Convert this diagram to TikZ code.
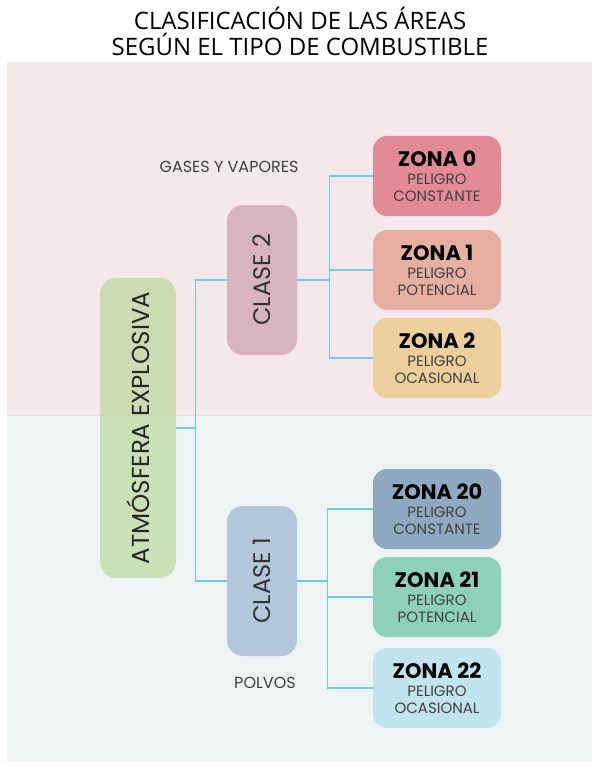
\documentclass[tikz,border=0pt]{standalone}
\usepackage{fontspec}
\usepackage{graphicx}
\setmainfont{Poppins}
\newfontfamily\titlefont{Open Sans}
\usetikzlibrary{positioning}

\definecolor{bgtop}{HTML}{F4E8EA}
\definecolor{bgbottom}{HTML}{EEF4F4}
\definecolor{bgline}{HTML}{E4DFE1}
\definecolor{linkblue}{HTML}{6CCBEE}
\definecolor{rootgreen}{HTML}{A8D07C}
\definecolor{claseA}{HTML}{D8B5BE}
\definecolor{claseB}{HTML}{B3C7DC}
\definecolor{zonaA}{HTML}{E28A96}
\definecolor{zonaB}{HTML}{E6AFA1}
\definecolor{zonaC}{HTML}{EDCF9D}
\definecolor{zonaD}{HTML}{8EA9C1}
\definecolor{zonaE}{HTML}{8ED0BB}
\definecolor{zonaF}{HTML}{C2E4EF}

\begin{document}
\begin{tikzpicture}[
        x=1pt, y=-1pt,
        zone/.style={
          rounded corners=14pt,
          minimum width=128pt,
          minimum height=80pt,
          align=center,
          inner sep=2pt,
          text=black!75,
          font=\fontsize{15}{17}\selectfont
        },
        clase/.style={
          rounded corners=16pt,
          minimum width=70pt,
          minimum height=150pt,
          inner sep=0pt,
          text=black!80,
          font=\fontsize{24}{26}\selectfont
        },
        root/.style={
          rounded corners=16pt,
          minimum width=76pt,
          minimum height=300pt,
          inner sep=0pt,
          fill=rootgreen,
          fill opacity=0.5,
          text opacity=1,
          text=black!85,
          font=\fontsize{24.5}{27}\selectfont
        },
        note/.style={text=black!75, font=\fontsize{16}{18}\selectfont},
        link/.style={draw=linkblue, line width=1.4pt}
      ]

      \useasboundingbox (0,0) rectangle (592,762);
      % backgrounds
      \fill[bgtop] (7,62) rectangle (592,415);
      \fill[bgbottom] (7,415) rectangle (592,762);
      \draw[bgline, line width=1pt] (7,415) -- (592,415);

      \node[align=center, font=\titlefont\fontsize{24}{26}\selectfont] (title) at (300,31) {CLASIFICACIÓN DE LAS ÁREAS\\SEGÚN EL TIPO DE COMBUSTIBLE};

      \node[root] (atm) at (138,428) {\rotatebox{90}{ATMÓSFERA EXPLOSIVA}};

      \node[clase, fill=claseA] (c2) at (262,280) {\rotatebox{90}{CLASE 2}};
      \node[clase, fill=claseB] (c1) at (262,581) {\rotatebox{90}{CLASE 1}};

      \node[note] (gases) at (229,167) {GASES Y VAPORES};
      \node[note] (polvos) at (265,683) {POLVOS};

      \node[zone, fill=zonaA] (z0) at (437,176) {{\bfseries\fontsize{21}{22}\selectfont\color{black} ZONA 0}\\[1pt] PELIGRO\\ CONSTANTE};
      \node[zone, fill=zonaB] (z1) at (437,270) {{\bfseries\fontsize{21}{22}\selectfont\color{black} ZONA 1}\\[1pt] PELIGRO\\ POTENCIAL};
      \node[zone, fill=zonaC] (z2) at (437,358) {{\bfseries\fontsize{21}{22}\selectfont\color{black} ZONA 2}\\[1pt] PELIGRO\\ OCASIONAL};

      \node[zone, fill=zonaD] (z20) at (437,509) {{\bfseries\fontsize{21}{22}\selectfont\color{black} ZONA 20}\\[1pt] PELIGRO\\ CONSTANTE};
      \node[zone, fill=zonaE] (z21) at (437,597) {{\bfseries\fontsize{21}{22}\selectfont\color{black} ZONA 21}\\[1pt] PELIGRO\\ POTENCIAL};
      \node[zone, fill=zonaF] (z22) at (437,688) {{\bfseries\fontsize{21}{22}\selectfont\color{black} ZONA 22}\\[1pt] PELIGRO\\ OCASIONAL};

      % tree connectors
      \draw[link] (atm.east) -- ++(19,0) coordinate (ja);
      \draw[link] (c2.west) -| (ja) |- (c1.west);
      \draw[link] (c2.east) -- ++(32,0) coordinate (jb);
      \draw[link] (z0.west) -| (jb) |- (z2.west);
      \draw[link] (jb) |- (z1.west);
      \draw[link] (c1.east) -- ++(30,0) coordinate (jc);
      \draw[link] (z20.west) -| (jc) |- (z22.west);
      \draw[link] (jc) |- (z21.west);
    \end{tikzpicture}
\end{document}
